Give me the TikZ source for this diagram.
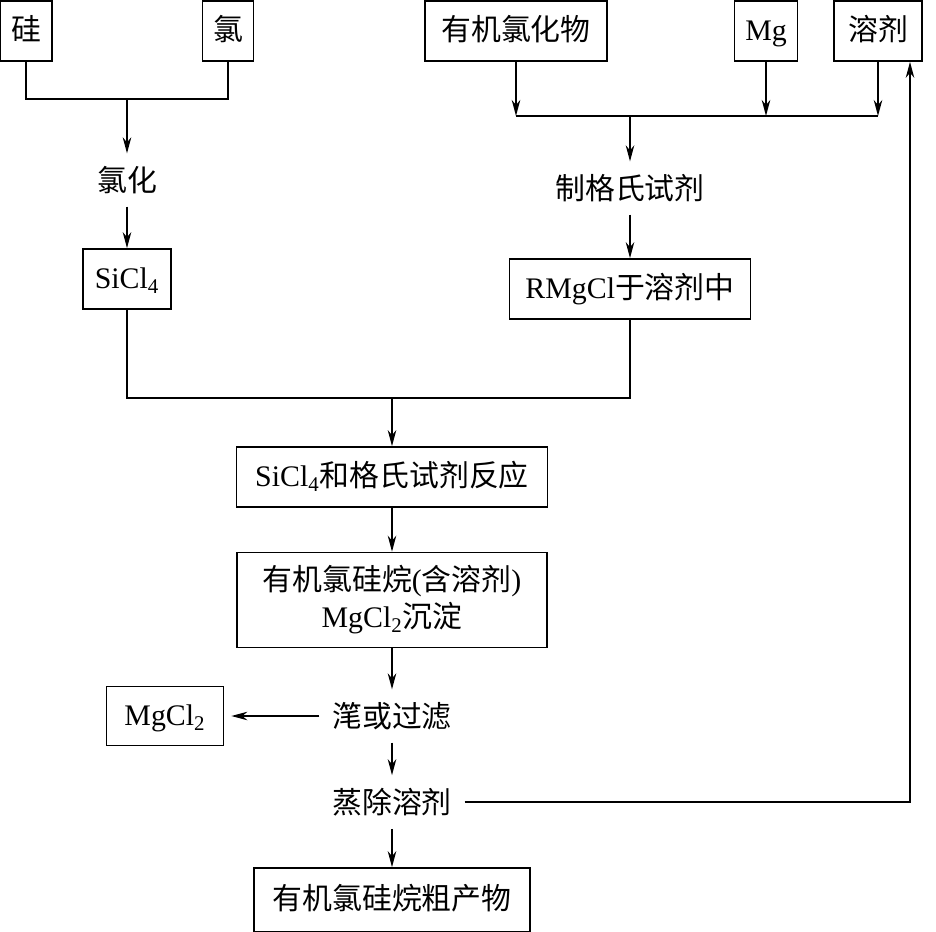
\documentclass[tikz,border=0pt]{standalone}
\usepackage{fontspec}
\setmainfont{Liberation Serif}
\newfontfamily\cjk{Noto Sans CJK SC}
\usetikzlibrary{arrows.meta}

\begin{document}
\begin{tikzpicture}[
    x=0.02cm, y=-0.02cm,
    font=\fontsize{17}{21}\selectfont,
    tallbox/.style={rectangle, draw, line width=0.95pt, minimum height=1.2cm, inner sep=0pt},
    box/.style={tallbox, text height=14pt, text depth=3pt},
    op/.style={inner sep=0.25cm},
    link/.style={line width=0.95pt},
    arrow/.style={-{Stealth[length=3.2mm, width=1.7mm, inset=1mm]}, line width=0.95pt}
]
\useasboundingbox (0,0) rectangle (936,932);
\node[box, minimum width=1.04cm] (gui) at (26,31) {\cjk 硅};
\node[box, minimum width=1.02cm] (lv) at (228,31) {\cjk 氯};
\node[box, minimum width=3.64cm] (ylh) at (516,31) {\cjk 有机氯化物};
\node[box, minimum width=1.26cm] (mg) at (766,31) {Mg};
\node[box, minimum width=1.76cm] (rj) at (878,31) {\cjk 溶剂};
\node[op] (lvhua) at (127,180) {\cjk 氯化};
\node[box, minimum width=1.76cm] (sicl) at (127,279) {SiCl\textsubscript{4}};
\node[op] (zhi) at (630,188) {\cjk 制格氏试剂};
\node[box, minimum width=4.82cm] (rmg) at (630,289) {RMgCl{\cjk 于溶剂中}};
\node[box, minimum width=6.22cm] (fy) at (392,477) {SiCl\textsubscript{4}{\cjk 和格氏试剂反应}};
\node[tallbox, minimum width=6.2cm, minimum height=1.9cm, align=center] (cw) at (392,600)
    {{\cjk 有机氯硅烷}({\cjk 含溶剂})\\MgCl\textsubscript{2}{\cjk 沉淀}};
\node[op] (lv2) at (392,716) {\cjk 滗或过滤};
\node[box, minimum width=2.34cm, minimum height=1.18cm] (mgcl) at (165,716) {MgCl\textsubscript{2}};
\node[op] (zc) at (392,802) {\cjk 蒸除溶剂};
\node[box, minimum width=5.52cm, minimum height=1.28cm] (cp) at (392,900) {\cjk 有机氯硅烷粗产物};

\coordinate (j1) at (127,99);
\coordinate (j2) at (630,116);
\coordinate (j3) at (392,398);

\draw[link] (gui) |- (j1) -| (lv);
\draw[arrow] (j1) -- (lvhua);
\draw[arrow] (lvhua) -- (sicl);
\draw[arrow] (ylh) -- (ylh |- j2);
\draw[arrow] (mg) -- (mg |- j2);
\draw[arrow] (rj) -- (rj |- j2);
\draw[link] (ylh |- j2) -- (rj |- j2);
\draw[arrow] (j2) -- (zhi);
\draw[arrow] (zhi) -- (rmg);
\draw[link] (sicl) |- (j3) -| (rmg);
\draw[arrow] (j3) -- (fy);
\draw[arrow] (fy) -- (cw);
\draw[arrow] (cw) -- (lv2);
\draw[arrow, shorten >=4pt] (lv2) -- (mgcl);
\draw[arrow] (lv2) -- (zc);
\draw[arrow] (zc) -- (cp);
\draw[arrow] (zc) -| ([xshift=0.64cm]rj.south);
\end{tikzpicture}
\end{document}
